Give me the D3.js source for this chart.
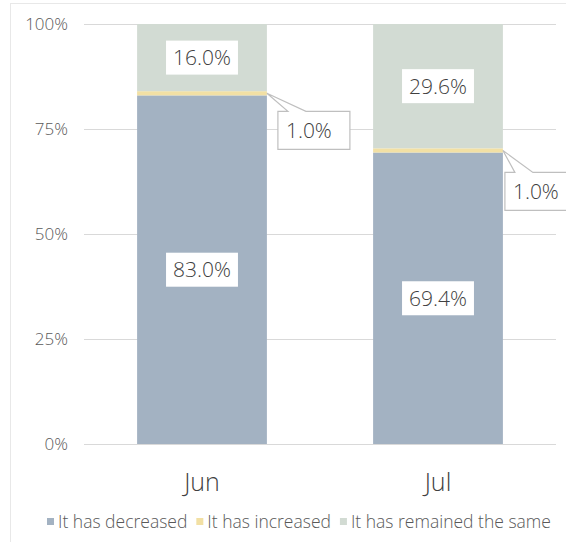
<!DOCTYPE html>
<html>
<head>
<meta charset="utf-8">
<script src="https://cdn.jsdelivr.net/npm/d3@7"></script>
<style>
  body { margin: 0; background: #fff; }
  text { font-family: "Open Sans", "Liberation Sans", sans-serif; font-weight: 300; }
</style>
</head>
<body>
<div id="chart"></div>
<script>
// data
var months = ["Jun", "Jul"];
var decreased = [83.0, 69.4];
var increased = [1.0, 1.0];
var remained = [16.0, 29.6];
var seriesNames = ["It has decreased", "It has increased", "It has remained the same"];
var seriesColors = ["#a3b2c2", "#f2e0a4", "#d2dbd3"];
var yTicks = [0, 25, 50, 75, 100];
// where each callout box sits relative to its slice (dx, dy)
var calloutShift = [[11, 18], [2, 22]];

var svgWidth = 566;
var svgHeight = 542;

var svg = d3.select("#chart")
  .append("svg")
  .attr("width", svgWidth)
  .attr("height", svgHeight);

// faint outer frame
svg.append("rect")
  .attr("x", 10.5)
  .attr("y", 3.5)
  .attr("width", 620)
  .attr("height", 620)
  .attr("fill", "none")
  .attr("stroke", "#e8e8e8");

var xScale = d3.scaleBand()
  .domain(months)
  .range([84, 556])
  .paddingInner(0.45)
  .paddingOuter(0.225);

var yScale = d3.scaleLinear()
  .domain([0, 100])
  .range([444, 24]);

// gridlines + y labels
var yAxis = svg.append("g")
  .attr("transform", "translate(84,0)")
  .call(d3.axisLeft(yScale).tickValues(yTicks).tickSize(-472).tickFormat(d => d + "%").tickPadding(16));
yAxis.select(".domain").remove();
yAxis.selectAll(".tick line").attr("stroke", "#d9d9d9");
yAxis.selectAll(".tick text")
  .attr("fill", "#595959")
  .attr("font-size", "17px")
  .attr("font-family", null);

// stack the series
var rows = months.map((m, i) => ({
  month: m,
  s0: decreased[i],
  s1: increased[i],
  s2: remained[i]
}));
var stack = d3.stack().keys(["s0", "s1", "s2"])(rows);

var layers = svg.selectAll("g.layer")
  .data(stack)
  .enter()
  .append("g")
  .attr("class", "layer")
  .attr("fill", (d, i) => seriesColors[i]);

layers.selectAll("rect")
  .data(d => d)
  .enter()
  .append("rect")
  .attr("x", d => xScale(d.data.month))
  .attr("y", d => yScale(d[1]))
  .attr("width", xScale.bandwidth())
  .attr("height", d => yScale(d[0]) - yScale(d[1]));

// inner labels (decreased + remained)
function addLabel(cx, cy, txt) {
  var g = svg.append("g");
  var t = g.append("text")
    .attr("x", cx)
    .attr("y", cy)
    .attr("text-anchor", "middle")
    .attr("dy", "0.35em")
    .attr("fill", "#404040")
    .attr("font-size", "21px")
    .text(txt);
  var w = t.node().getComputedTextLength();
  g.insert("rect", "text")
    .attr("x", cx - w / 2 - 7)
    .attr("y", cy - 17)
    .attr("width", w + 14)
    .attr("height", 34)
    .attr("fill", "#fff");
}

[0, 2].forEach(function(k) {
  stack[k].forEach(function(d) {
    var cx = xScale(d.data.month) + xScale.bandwidth() / 2;
    var cy = (yScale(d[0]) + yScale(d[1])) / 2;
    addLabel(cx, cy, (d[1] - d[0]).toFixed(1) + "%");
  });
});

// callouts for the thin "increased" slice
stack[1].forEach(function(d, i) {
  var px = xScale(d.data.month) + xScale.bandwidth();
  var py = yScale((d[0] + d[1]) / 2);
  var bx = px + calloutShift[i][0], by = py + calloutShift[i][1];
  var bw = 72, bh = 38;
  var path = d3.path();
  path.moveTo(bx, by);
  path.lineTo(bx + 10, by);
  path.lineTo(px, py);
  path.lineTo(bx + 28, by);
  path.lineTo(bx + bw, by);
  path.lineTo(bx + bw, by + bh);
  path.lineTo(bx, by + bh);
  path.closePath();
  svg.append("path")
    .attr("d", path.toString())
    .attr("fill", "#fff")
    .attr("stroke", "#bfbfbf")
    .attr("stroke-width", 1.2);
  svg.append("text")
    .attr("x", bx + 8)
    .attr("y", by + bh / 2)
    .attr("dy", "0.35em")
    .attr("fill", "#404040")
    .attr("font-size", "21px")
    .text((d[1] - d[0]).toFixed(1) + "%");
});

// x labels
svg.append("g")
  .selectAll("text")
  .data(months)
  .enter()
  .append("text")
  .attr("x", d => xScale(d) + xScale.bandwidth() / 2)
  .attr("y", 491)
  .attr("text-anchor", "middle")
  .attr("fill", "#404040")
  .attr("font-size", "25px")
  .text(d => d);

// legend
var legend = svg.append("g").attr("transform", "translate(0,522)");
var lx = 47;
seriesNames.forEach(function(name, i) {
  legend.append("rect")
    .attr("x", lx)
    .attr("y", -4)
    .attr("width", 7)
    .attr("height", 7)
    .attr("fill", seriesColors[i]);
  var t = legend.append("text")
    .attr("x", lx + 11)
    .attr("y", 0)
    .attr("dy", "0.35em")
    .attr("fill", "#595959")
    .attr("font-size", "17.5px")
    .text(name);
  lx += 11 + t.node().getComputedTextLength() + 9;
});
</script>
</body>
</html>
